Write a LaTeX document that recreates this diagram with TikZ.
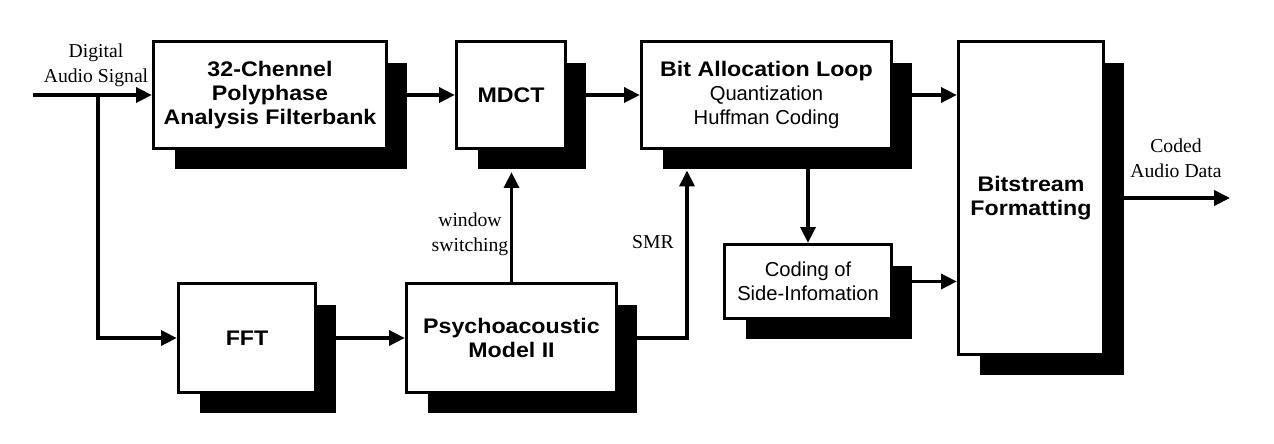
\documentclass[tikz,border=0pt]{standalone}
\usepackage{fontspec}
\setmainfont{Liberation Serif}
\newfontfamily\cajafont[FakeStretch=1.1]{Liberation Sans}
\newfontfamily\cajanormal{Liberation Sans}
\usetikzlibrary{arrows.meta,shadows,calc}
\newcommand{\txtnormal}{\cajanormal\mdseries\fontsize{11.5}{13}\selectfont}
\tikzset{
  bloque/.style={draw, line width=1.9pt, fill=white, align=center, inner sep=0pt,
    font=\cajafont\fontsize{12}{13.5}\selectfont\bfseries,
    general shadow={fill=black, shadow xshift=0.42cm, shadow yshift=-0.42cm}},
  flecha/.style={line width=2pt, -{Triangle[length=9pt,width=8.5pt]}},
  etiq/.style={align=center, font=\fontsize{11.2}{14}\selectfont}
}
\begin{document}
\begin{tikzpicture}[x=0.02cm, y=-0.02cm]
    \useasboundingbox (0,0) rectangle (1274,443);
    % Fila superior
    \node[bloque, minimum width=4.66cm, minimum height=2.14cm] (poly) at (270,95) {32-Chennel\\Polyphase\\Analysis Filterbank};
    \node[bloque, minimum width=2.18cm, minimum height=2.14cm] (mdct) at (511,95) {MDCT};
    \node[bloque, minimum width=5.0cm, minimum height=2.14cm] (alloc) at (766.5,95) {Bit Allocation Loop\\{\txtnormal Quantization}\\{\txtnormal Huffman Coding}};
    \node[bloque, minimum width=2.9cm, minimum height=6.26cm] (bits) at (1031,198) {Bitstream\\Formatting};
    \node[bloque, minimum width=3.34cm, minimum height=1.48cm] (side) at (808,281.5) {{\txtnormal Coding of}\\{\txtnormal Side-Infomation}};
    % Fila inferior
    \node[bloque, minimum width=2.74cm, minimum height=2.18cm] (fft) at (247,338) {FFT};
    \node[bloque, minimum width=4.2cm, minimum height=2.18cm] (psy) at (511.5,338) {Psychoacoustic\\Model II};
    % Etiquetas
    \node[etiq] (dig) at (96,65) {Digital\\Audio Signal};
    \node[etiq] (cod) at (1176,158) {Coded\\Audio Data};
    \node[etiq] (win) at (470,234) {window\\switching};
    \node[etiq] (smrl) at (653,242) {SMR};
    % Puntos auxiliares
    \coordinate (ent) at (33,95);
    \coordinate (rama) at (98,95);
    \coordinate (sal) at (1230,198);
    \coordinate (mdctsombra) at ($(mdct.south)+(0,22)$);
    \coordinate (smr) at (687,170.5);
    % Flechas
    \draw[flecha] (ent) -- (poly);
    \draw[flecha] (rama) |- (fft);
    \draw[flecha] (poly) -- (mdct);
    \draw[flecha] (mdct) -- (alloc);
    \draw[flecha] (alloc) -- (alloc -| bits.west);
    \draw[flecha] (side.north |- alloc.south) -- (side.north);
    \draw[flecha] (side) -- (side -| bits.west);
    \draw[flecha] (bits) -- (sal);
    \draw[flecha] (fft) -- (psy);
    \draw[flecha] (psy.north) -- (psy.north |- mdctsombra);
    \draw[flecha] (psy) -| (smr);
\end{tikzpicture}
\end{document}
